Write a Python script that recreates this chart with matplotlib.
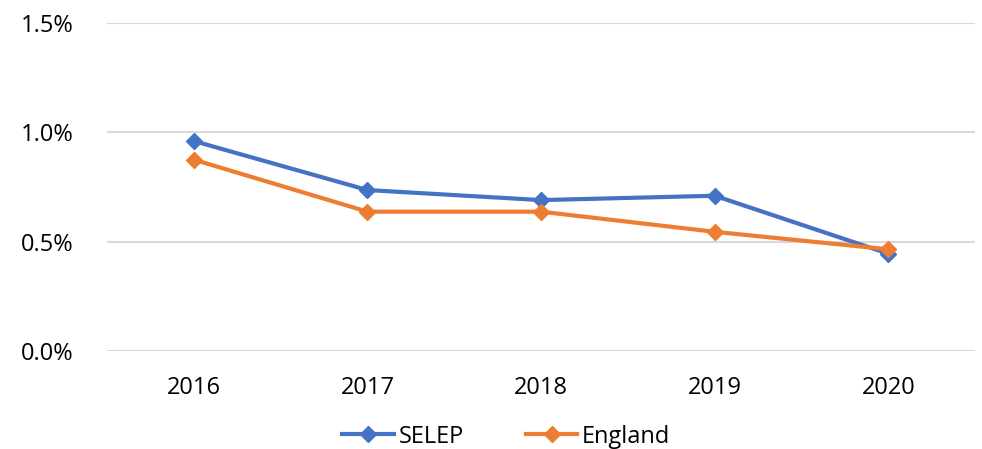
import matplotlib.pyplot as plt
from matplotlib.ticker import FuncFormatter

years = ["2016", "2017", "2018", "2019", "2020"]
selep = [0.0096, 0.00736, 0.0069, 0.0071, 0.00445]
england = [0.00875, 0.00637, 0.00637, 0.00545, 0.00465]

plt.rcParams["font.family"] = ["Open Sans", "DejaVu Sans"]

fig = plt.figure(figsize=(9.82, 4.49), dpi=100)
ax = fig.add_axes([0.109, 0.2183, 0.884, 0.7305])

x = range(len(years))
ax.plot(x, selep, color="#4472C4", lw=3, marker="D", ms=8, label="SELEP")
ax.plot(x, england, color="#ED7D31", lw=3, marker="D", ms=8, label="England")

ax.set_xlim(-0.5, len(years) - 0.5)
ax.set_ylim(0, 0.015)
ax.set_yticks([0, 0.005, 0.01, 0.015])
ax.yaxis.set_major_formatter(FuncFormatter(lambda v, p: f"{v*100:.1f}%"))
ax.set_xticks(list(x))
ax.set_xticklabels(years)

ax.grid(axis="y", color="#d9d9d9", lw=1.5)
ax.set_axisbelow(True)
for s in ax.spines.values():
    s.set_visible(False)
ax.tick_params(length=0, labelsize=17, colors="#000000", pad=18)
ax.tick_params(axis="y", pad=24)

ax.legend(loc="upper center", bbox_to_anchor=(0.46, -0.16), ncol=2, frameon=False,
          fontsize=17, handlelength=2.2, columnspacing=2.6, handletextpad=0.2)

fig.savefig("out.png", dpi=100)
